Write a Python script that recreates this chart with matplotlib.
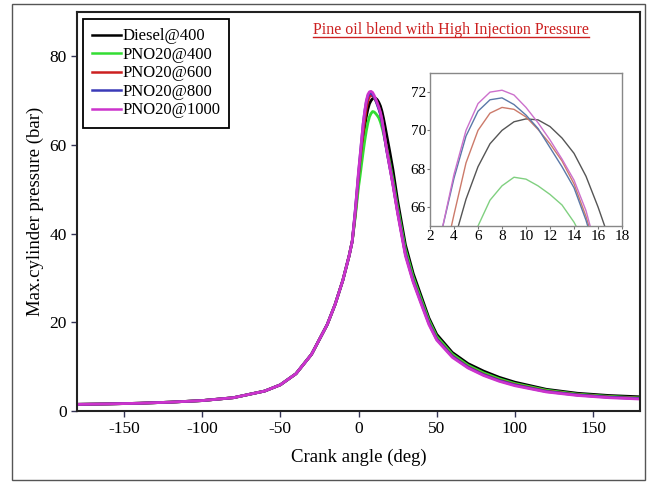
import matplotlib
matplotlib.use('Agg')
import matplotlib.pyplot as plt
from matplotlib.lines import Line2D
from matplotlib.patches import Rectangle

plt.rcParams['font.family'] = 'serif'
plt.rcParams['font.serif'] = ['Liberation Serif', 'DejaVu Serif']
plt.rcParams['axes.unicode_minus'] = False

# crank angle (deg)
angle = [-180, -160, -140, -120, -100, -80, -60, -50, -40, -30,
         -20, -15, -10, -6, -4, -2, 0, 1, 2,
         3, 4, 5, 6, 7, 8, 9, 10, 11, 12, 13, 14, 15, 16, 17, 18,
         20, 22, 25, 30, 35, 40, 45, 50,
         60, 70, 80, 90, 100, 120, 140, 160, 180]

# compression part, shared until ignition (-180 .. -4 deg)
compression = [1.5, 1.6, 1.75, 2.0, 2.35, 3.0, 4.5, 5.9, 8.4, 12.8,
               19.5, 24.0, 29.5, 35.0, 38.3]

# cylinder pressure (bar) from -2 deg onwards
diesel_400 = [44.5, 52.0, 55.3, 58.5,
              61.5, 64.2, 66.4, 68.1, 69.3, 70.0, 70.45, 70.6, 70.55, 70.2, 69.6, 68.8, 67.6, 66.0, 64.2, 62.3,
              58.5, 54.5, 47.5, 37.5, 31.0, 26.0, 21.0, 17.3,
              13.2, 10.7, 9.0, 7.6, 6.5, 4.9, 4.0, 3.5, 3.2]
pno20_400 = [44.0, 50.5, 53.0, 55.8,
             58.5, 61.0, 63.2, 65.0, 66.35, 67.1, 67.55, 67.45, 67.1, 66.65, 66.1, 65.2, 64.0, 62.6, 61.0, 59.4,
             56.0, 52.3, 46.0, 36.5, 30.2, 25.3, 20.5, 16.8,
             12.8, 10.3, 8.6, 7.25, 6.2, 4.7, 3.8, 3.3, 2.95]
pno20_600 = [45.0, 53.0, 56.5, 59.8,
             62.8, 65.6, 68.3, 70.0, 70.9, 71.2, 71.1, 70.7, 70.05, 69.3, 68.4, 67.2, 65.5, 63.4, 61.2, 59.0,
             55.2, 51.3, 45.0, 35.5, 29.4, 24.6, 19.9, 16.3,
             12.4, 9.95, 8.25, 6.95, 5.95, 4.5, 3.65, 3.15, 2.85]
pno20_800 = [45.5, 53.5, 57.3, 61.0,
             64.8, 67.5, 69.7, 71.0, 71.6, 71.7, 71.35, 70.8, 70.1, 69.1, 68.1, 67.0, 65.3, 63.2, 61.0, 58.8,
             55.0, 51.2, 44.9, 35.4, 29.3, 24.5, 19.8, 16.2,
             12.3, 9.85, 8.15, 6.85, 5.85, 4.4, 3.6, 3.1, 2.8]
pno20_1000 = [45.5, 54.0, 57.5, 61.3,
              64.8, 67.7, 70.0, 71.4, 72.0, 72.1, 71.85, 71.2, 70.4, 69.5, 68.5, 67.4, 65.8, 63.5, 61.2, 59.0,
              55.0, 51.0, 44.6, 35.0, 29.0, 24.2, 19.5, 16.0,
              12.1, 9.7, 8.0, 6.7, 5.7, 4.3, 3.5, 3.0, 2.7]

labels = ['Diesel@400', 'PNO20@400', 'PNO20@600', 'PNO20@800', 'PNO20@1000']
series = [diesel_400, pno20_400, pno20_600, pno20_800, pno20_1000]
colors = ['#000000', '#33dd33', '#cc2020', '#3a3ab8', '#cc33cc']
inset_colors = ['#555555', '#80d080', '#cc7a6a', '#5a78a8', '#cc70cc']

W, H = 649, 484
fig = plt.figure(figsize=(W / 100, H / 100), dpi=100)

# outer frame around the whole picture
fig.patches.append(Rectangle((12 / W, 4 / H), 633 / W, 476 / H, transform=fig.transFigure,
                             fill=False, edgecolor='#555555', linewidth=1.0))

ax = fig.add_axes([77 / W, (H - 411) / H, (640 - 77) / W, (411 - 12) / H])
for vals, c, lab in zip(series, colors, labels):
    ax.plot(angle, compression + vals, color=c, lw=2.0, label=lab)

ax.set_xlim(-180, 180)
ax.set_ylim(0, 90)
ax.set_xticks([-150, -100, -50, 0, 50, 100, 150])
ax.set_yticks([0, 20, 40, 60, 80])
ax.tick_params(direction='out', length=4, width=1, labelsize=12.5, color='#333355')
for s in ax.spines.values():
    s.set_linewidth(1.5)
    s.set_color('#222222')
ax.set_xlabel('Crank angle (deg)', fontsize=13.5, labelpad=8)
ax.set_ylabel('Max.cylinder pressure (bar)', fontsize=13.5, labelpad=4)

leg = ax.legend(loc='upper left', bbox_to_anchor=(0.005, 0.99), fontsize=12,
                frameon=True, fancybox=False, edgecolor='black', framealpha=1,
                labelspacing=0.15, handlelength=1.75, handletextpad=0.05,
                borderpad=0.55, borderaxespad=0.2)
leg.get_frame().set_linewidth(1.3)
for ln in leg.get_lines():
    ln.set_linewidth(1.8)

title = ax.text(0.665, 0.955, 'Pine oil blend with High Injection Pressure',
                transform=ax.transAxes, ha='center', va='center',
                fontsize=11.5, color='#cc2020')

# inset with the peak region
axin = fig.add_axes([430 / W, (H - 226) / H, 192 / W, 153 / H])
for vals, c in zip(series, inset_colors):
    axin.plot(angle, compression + vals, color=c, lw=1.0)
axin.set_xlim(2, 18)
axin.set_ylim(65, 73)
axin.set_xticks([2, 4, 6, 8, 10, 12, 14, 16, 18])
axin.set_yticks([66, 68, 70, 72])
axin.tick_params(direction='out', length=2, width=0.8, labelsize=11, pad=1, color='#777777')
for s in axin.spines.values():
    s.set_linewidth(1.0)
    s.set_color('#888888')

# underline the red caption
fig.canvas.draw()
bb = title.get_window_extent()
inv = fig.transFigure.inverted()
(x0, y0), (x1, _) = inv.transform([(bb.x0, bb.y0 + 1), (bb.x1, bb.y0 + 1)])
fig.lines.append(Line2D([x0, x1], [y0, y0], transform=fig.transFigure,
                        color='#cc2020', lw=1.0))

fig.savefig('out.png', dpi=100)
